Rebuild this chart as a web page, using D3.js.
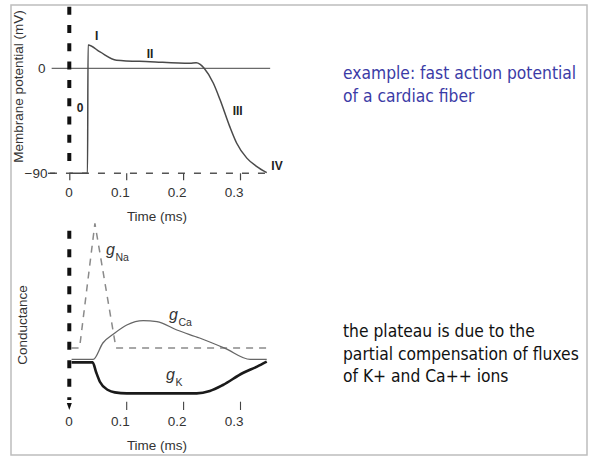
<!DOCTYPE html>
<html>
<head>
<meta charset="utf-8">
<script src="https://cdn.jsdelivr.net/npm/d3@7"></script>
<style>
  html, body { margin: 0; padding: 0; background: #fff; }
  svg { display: block; }
</style>
</head>
<body>
<svg id="chart" width="595" height="457"></svg>
<script>
// Time axis ticks (ms) and their labels
const timeTicks = [0, 0.1, 0.2, 0.3];
const timeTickLabels = ["0", "0.1", "0.2", "0.3"];

// Membrane potential ticks (mV)
const voltageTicks = [0, -90];
const voltageTickLabels = ["0", "\u221290"];

// Fast cardiac action potential: [time (ms), potential (mV)]
const actionPotential = [
  [0.000, -90], [0.032, -90], [0.033, 20], [0.054, 14], [0.083, 7],
  [0.142, 5.7], [0.212, 4.3], [0.223, 4.8], [0.230, 3.4], [0.237, 0],
  [0.253, -12.6], [0.265, -27], [0.282, -50], [0.294, -64], [0.312, -77],
  [0.329, -84], [0.347, -89.5]
];

// Phase labels of the action potential: [label, time, potential]
const phaseLabels = [
  ["I", 0.048, 28], ["II", 0.142, 12.5], ["0", 0.019, -34],
  ["III", 0.296, -36], ["IV", 0.365, -83]
];

// Conductances (arbitrary units) over time (ms)
const gNa = [[0.004, 2.6], [0.018, 2.6], [0.045, 8.83], [0.082, 2.6], [0.347, 2.6]];
const gCa = [
  [0.004, 2.03], [0.042, 2.03], [0.059, 2.85], [0.080, 3.35], [0.101, 3.75],
  [0.130, 3.97], [0.154, 3.92], [0.189, 3.5], [0.229, 3.1], [0.274, 2.58],
  [0.318, 2.03], [0.347, 2.03]
];
const gK = [
  [0.004, 1.88], [0.041, 1.88], [0.047, 1.4], [0.054, 0.9], [0.068, 0.5],
  [0.080, 0.38], [0.101, 0.33], [0.224, 0.33], [0.247, 0.45], [0.270, 0.75],
  [0.305, 1.35], [0.330, 1.67], [0.347, 1.92]
];

// Side notes
const noteTop = ["example: fast action potential", "of a cardiac fiber"];
const noteBottom = ["the plateau is due to the", "partial compensation of fluxes", "of K+ and Ca++ ions"];

const svg = d3.select("#chart");
const axisFont = "'Liberation Sans', Arial, sans-serif";
const ink = "#333";

// Frame
svg.append("rect")
  .attr("x", 11).attr("y", 5).attr("width", 576).attr("height", 450)
  .attr("fill", "none").attr("stroke", "#bdbdbd").attr("stroke-width", 1.5);

// Shared time scale
const x = d3.scaleLinear().domain([0, 0.3]).range([69.3, 240]);
// Potential and conductance scales
const yV = d3.scaleLinear().domain([-90, 0]).range([173.3, 68.3]);
const yG = d3.scaleLinear().domain([0, 10]).range([400, 200]);

// ---------- Upper panel: action potential ----------
const apPanel = svg.append("g");

// Zero reference line
apPanel.append("line")
  .attr("x1", x(-0.031)).attr("x2", x(0.353))
  .attr("y1", yV(0)).attr("y2", yV(0))
  .attr("stroke", "#6a6a6a").attr("stroke-width", 1.3);

// Resting level (dashed)
apPanel.append("line")
  .attr("x1", x(-0.034)).attr("x2", x(0.347))
  .attr("y1", yV(-90)).attr("y2", yV(-90))
  .attr("stroke", "#555").attr("stroke-width", 1.5)
  .attr("stroke-dasharray", "7,9");

// Time axis of the upper panel
const axTop = apPanel.append("g")
  .attr("transform", `translate(0,${yV(-90)})`)
  .call(d3.axisBottom(x).tickValues(timeTicks)
    .tickFormat((d, i) => timeTickLabels[i]).tickSize(7).tickPadding(7));
axTop.select(".domain").remove();
axTop.selectAll(".tick line").attr("stroke", "#444").attr("stroke-width", 1.2);
axTop.selectAll(".tick text")
  .attr("text-anchor", "end").attr("x", 3)
  .attr("fill", ink).style("font", `13.5px ${axisFont}`);

// Potential tick labels
apPanel.selectAll("text.vtick").data(voltageTicks).join("text")
  .attr("class", "vtick")
  .attr("x", (d, i) => i === 0 ? 45.5 : 47.5)
  .attr("y", d => yV(d) + 4.8)
  .attr("text-anchor", "end")
  .attr("fill", ink).style("font", `13.5px ${axisFont}`)
  .text((d, i) => voltageTickLabels[i]);
apPanel.append("line")
  .attr("x1", 48).attr("x2", 55).attr("y1", yV(-90)).attr("y2", yV(-90))
  .attr("stroke", "#444").attr("stroke-width", 1.3);

// Action potential trace
apPanel.append("path")
  .datum(actionPotential)
  .attr("d", d3.line().x(d => x(d[0])).y(d => yV(d[1])).curve(d3.curveMonotoneX))
  .attr("fill", "none").attr("stroke", "#4a4a4a").attr("stroke-width", 1.5);

// Phase labels
apPanel.selectAll("text.phase").data(phaseLabels).join("text")
  .attr("class", "phase")
  .attr("x", d => x(d[1])).attr("y", d => yV(d[2]) + 4.5)
  .attr("text-anchor", "middle")
  .attr("fill", "#222").style("font", `bold 12px ${axisFont}`)
  .text(d => d[0]);

// Axis titles
apPanel.append("text")
  .attr("transform", `translate(23,86.5) rotate(-90)`)
  .attr("text-anchor", "middle").attr("fill", ink)
  .style("font", `13.5px ${axisFont}`)
  .text("Membrane potential (mV)");
apPanel.append("text")
  .attr("x", 157).attr("y", 221)
  .attr("text-anchor", "middle").attr("fill", ink)
  .style("font", `13.5px ${axisFont}`)
  .text("Time (ms)");

// Stimulus marker at t = 0
apPanel.append("line")
  .attr("x1", x(0)).attr("x2", x(0)).attr("y1", 6.7).attr("y2", 171)
  .attr("stroke", "#111").attr("stroke-width", 4)
  .attr("stroke-dasharray", "8,10.3");

// ---------- Lower panel: conductances ----------
const gPanel = svg.append("g");

const axBot = gPanel.append("g")
  .attr("transform", "translate(0,401.7)")
  .call(d3.axisBottom(x).tickValues(timeTicks)
    .tickFormat((d, i) => timeTickLabels[i]).tickSize(8.3).tickPadding(6.5));
axBot.select(".domain").remove();
axBot.selectAll(".tick line")
  .attr("stroke", "#444").attr("stroke-width", 1.1)
  .attr("opacity", d => d === 0 ? 0 : 1);
axBot.selectAll(".tick text")
  .attr("text-anchor", "end").attr("x", 3)
  .attr("fill", ink).style("font", `13.5px ${axisFont}`);

const straight = d3.line().x(d => x(d[0])).y(d => yG(d[1]));
const smooth = d3.line().x(d => x(d[0])).y(d => yG(d[1])).curve(d3.curveMonotoneX);

gPanel.append("path").datum(gNa)
  .attr("d", straight)
  .attr("fill", "none").attr("stroke", "#8a8a8a").attr("stroke-width", 1.5)
  .attr("stroke-dasharray", "7,6");

gPanel.append("path").datum(gCa)
  .attr("d", smooth)
  .attr("fill", "none").attr("stroke", "#666").attr("stroke-width", 1.3);

gPanel.append("path").datum(gK)
  .attr("d", smooth)
  .attr("fill", "none").attr("stroke", "#1a1a1a").attr("stroke-width", 2.6);

// Conductance labels: italic g with subscript ion name
function condLabel(px, py, ion) {
  const t = gPanel.append("text")
    .attr("x", px).attr("y", py)
    .attr("fill", "#333").style("font-family", axisFont);
  t.append("tspan").attr("fill", "#333")
    .style("font-style", "italic").style("font-size", "16px").text("g");
  t.append("tspan").attr("fill", "#333")
    .attr("dy", 6).attr("dx", 0.5).style("font-size", "10.5px").text(ion);
}
condLabel(106, 255, "Na");
condLabel(169, 320, "Ca");
condLabel(166, 380, "K");

// Axis titles
gPanel.append("text")
  .attr("transform", "translate(26.5,325) rotate(-90)")
  .attr("text-anchor", "middle").attr("fill", ink)
  .style("font", `13.5px ${axisFont}`)
  .text("Conductance");
gPanel.append("text")
  .attr("x", 157).attr("y", 450)
  .attr("text-anchor", "middle").attr("fill", ink)
  .style("font", `13.5px ${axisFont}`)
  .text("Time (ms)");

// Stimulus marker with arrowhead
gPanel.append("line")
  .attr("x1", x(0)).attr("x2", x(0)).attr("y1", 230.7).attr("y2", 400)
  .attr("stroke", "#111").attr("stroke-width", 4)
  .attr("stroke-dasharray", "8,10.5");
gPanel.append("path")
  .attr("d", `M${x(0) - 2.5},403 L${x(0) + 2.5},403 L${x(0)},410 Z`)
  .attr("fill", "#111");

// ---------- Side notes ----------
const noteFont = "'DejaVu Sans Condensed', 'DejaVu Sans', Verdana, sans-serif";
svg.selectAll("text.noteTop").data(noteTop).join("text")
  .attr("class", "noteTop")
  .attr("x", 343).attr("y", (d, i) => 79 + i * 23)
  .attr("fill", "#3b3ba6").style("font-family", noteFont).style("font-size", "17.3px")
  .text(d => d);
svg.selectAll("text.noteBot").data(noteBottom).join("text")
  .attr("class", "noteBot")
  .attr("x", 343).attr("y", (d, i) => 337.3 + i * 22.2)
  .attr("fill", "#111").style("font-family", noteFont).style("font-size", "17.3px")
  .text(d => d);
</script>
</body>
</html>
